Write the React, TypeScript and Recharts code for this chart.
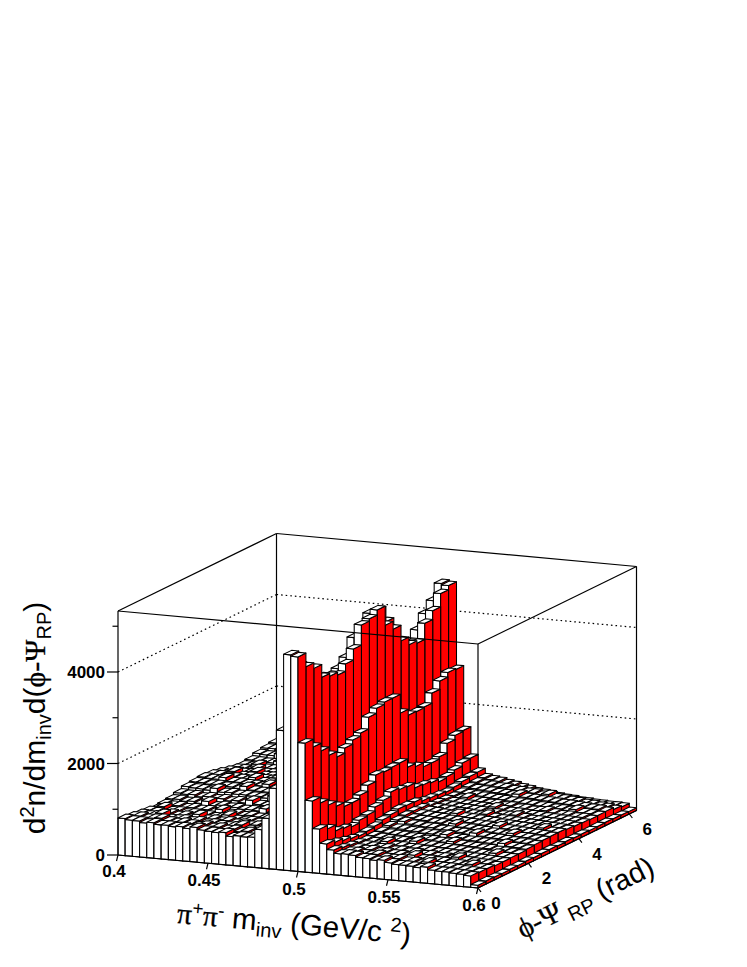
import React from "react";
import { ScatterChart, Scatter, XAxis, YAxis } from "recharts";

// Counts per (m_inv bin, phi bin): one array per phi bin, 50 mass bins each.
const phiBin00 = [810,790,785,755,775,745,750,730,745,720,760,715,700,690,705,630,660,650,660,840,1100,1770,3050,4720,4690,2820,1570,970,660,540,470,480,465,430,425,400,420,375,350,350,345,325,355,300,290,290,275,270,250,60];
const phiBin01 = [780,790,760,775,790,745,725,745,720,700,725,690,710,675,690,650,675,640,680,880,1150,1700,2850,4400,4390,2650,1440,890,610,500,445,450,415,405,430,380,370,380,340,350,320,365,300,295,295,275,265,255,240,70];
const phiBin02 = [750,735,745,795,700,700,715,690,705,670,685,665,650,665,700,620,615,640,650,820,1090,1640,2750,4250,4270,2480,1310,760,560,470,430,410,420,385,395,370,370,345,390,320,325,305,305,285,280,265,300,240,235,65];
const phiBin03 = [730,720,695,715,680,700,670,745,655,670,640,660,625,640,610,625,595,620,630,780,1030,1560,2600,3950,3990,2300,1200,730,520,440,410,400,380,390,355,365,340,345,315,325,295,305,280,330,265,255,245,240,215,60];
const phiBin04 = [690,745,670,680,650,665,640,650,625,640,690,610,590,610,585,590,570,585,610,760,1000,1520,2550,3900,3930,2180,1110,680,490,420,395,380,430,360,360,340,340,320,320,300,300,285,280,265,260,245,240,225,215,70];
const phiBin05 = [710,690,695,665,680,655,665,635,700,625,640,605,625,600,600,580,650,575,620,770,1010,1540,2520,3850,3870,2290,1110,740,510,430,405,390,375,375,350,395,330,335,315,310,295,290,275,270,255,250,290,230,220,65];
const phiBin06 = [730,735,705,720,690,750,665,690,665,670,645,650,640,700,620,600,620,590,640,790,1040,1590,2600,3910,4030,2380,1190,770,540,440,415,400,395,375,375,350,355,335,330,360,310,295,290,275,275,255,250,240,220,75];
const phiBin07 = [775,760,765,730,750,720,735,700,720,690,760,680,670,680,650,660,635,650,670,820,1090,1660,2700,4070,4270,2450,1320,860,590,480,440,430,410,410,385,385,365,400,345,340,320,320,305,300,285,320,265,255,240,70];
const phiBin08 = [830,815,810,795,850,775,785,760,765,750,750,735,790,715,720,695,700,680,700,880,1180,1810,3000,4420,4710,2710,1460,920,620,520,500,455,445,425,425,400,400,375,375,355,390,335,320,315,305,290,280,270,250,75];
const phiBin09 = [850,845,825,835,810,810,790,850,780,770,770,760,745,750,730,770,725,700,720,900,1220,1860,3080,4560,4760,2820,1440,1020,660,540,490,470,465,440,440,415,450,390,385,365,360,340,335,320,355,300,295,275,260,80];
const phiBin10 = [870,855,850,900,825,825,810,810,790,840,780,775,760,760,745,735,730,715,730,910,1250,1900,3150,4780,4870,2870,1460,980,650,545,495,480,465,455,435,425,410,405,385,380,360,395,340,330,320,305,300,285,265,70];
const phiBin11 = [850,850,825,830,810,805,860,785,785,765,775,750,800,740,735,715,720,705,720,900,1220,1850,3070,4760,4450,2870,1470,960,640,530,485,475,455,445,480,415,410,395,380,370,355,345,330,325,310,300,335,275,265,80];
const phiBin12 = [810,795,850,775,775,760,750,750,790,735,725,720,705,700,750,675,680,665,690,860,1140,1740,2900,4430,4280,2460,1290,850,580,490,460,445,435,420,410,395,385,420,365,345,340,325,315,305,295,285,275,265,245,70];
const phiBin13 = [765,760,745,745,790,720,720,705,700,695,695,740,675,665,655,650,690,635,660,810,1070,1640,2710,3900,3940,2330,1220,830,560,475,440,430,410,405,390,385,360,365,335,340,360,320,295,295,275,275,255,250,230,75];
const phiBin14 = [725,725,705,760,690,690,675,680,720,665,650,640,640,690,630,605,605,600,630,770,1020,1560,2580,3780,3770,2320,1130,790,540,460,425,410,400,385,380,365,395,350,325,325,310,300,290,280,270,260,250,240,220,65];
const phiBin15 = [710,700,750,680,680,665,670,710,655,640,640,620,625,610,660,595,595,585,610,760,1000,1520,2500,3700,3720,2340,1130,730,520,445,415,450,385,385,360,365,335,345,315,320,295,300,315,280,255,260,235,240,210,70];
const phiBin16 = [735,725,715,715,755,695,690,680,675,720,665,650,645,640,630,620,670,610,640,790,1040,1590,2600,3910,4070,2560,1180,760,545,450,430,415,405,390,380,370,355,345,335,325,305,305,285,285,265,300,245,235,215,75];
const phiBin17 = [790,775,775,820,760,740,745,725,730,710,770,695,700,680,685,660,670,650,680,850,1130,1720,2800,4180,4260,2740,1390,820,580,480,455,440,430,410,405,390,420,365,355,340,330,320,305,300,285,275,260,250,220,70];
const phiBin18 = [825,825,800,810,785,840,770,775,750,760,745,740,780,730,710,700,690,690,710,890,1180,1810,2950,4380,4550,2840,1480,890,610,500,470,460,435,435,405,400,380,375,345,375,315,305,285,275,250,240,220,205,175,65];
const phiBin19 = [855,840,835,820,815,800,800,780,785,760,770,745,750,730,730,710,715,695,730,910,1220,1860,3060,4670,4640,2820,1500,910,620,510,480,460,425,400,365,340,305,285,255,240,220,210,190,185,170,165,155,155,145,60];
const phiBins = [phiBin00,phiBin01,phiBin02,phiBin03,phiBin04,phiBin05,phiBin06,phiBin07,phiBin08,phiBin09,phiBin10,phiBin11,phiBin12,phiBin13,phiBin14,phiBin15,phiBin16,phiBin17,phiBin18,phiBin19];

const massMin = 0.4;
const massMax = 0.6;
const phiMax = 2 * Math.PI;
const zMax = 5333;
const massTicks = [0.4, 0.45, 0.5, 0.55, 0.6];
const massTickLabels = ["0.4", "0.45", "0.5", "0.55", "0.6"];
const phiTicks = [0, 2, 4, 6];
const zMajorTicks = [0, 2000, 4000];
const zMinorTicks = [1000, 3000, 5000];
const zGrid = [2000, 4000];

// Oblique projection of the lego's box on the page
const O = { x: 118, y: 855 };
const U = { x: 360, y: 33 };
const V = { x: 158.5, y: -77.5 };
const H = 244;
const project = (m: number, phi: number, z: number) => {
  const a = (m - massMin) / (massMax - massMin);
  const b = phi / phiMax;
  return { sx: O.x + a * U.x + b * V.x, sy: O.y + a * U.y + b * V.y - (z / zMax) * H };
};
const nMass = phiBin00.length;
const nPhi = phiBins.length;
const uStep = { x: U.x / nMass, y: U.y / nMass };
const vStep = { x: V.x / nPhi, y: V.y / nPhi };

const bars: any[] = [];
for (let j = nPhi - 1; j >= 0; j--) {
  for (let i = 0; i < nMass; i++) {
    const m = massMin + (i * (massMax - massMin)) / nMass;
    const phi = (j * phiMax) / nPhi;
    bars.push({ ...project(m, phi, 0), h: (phiBins[j][i] / zMax) * H });
  }
}

const seg = (a: any, b: any, extra: any = {}) => ({ ...a, dx: b.sx - a.sx, dy: b.sy - a.sy, ...extra });

const backSegs: any[] = [
  seg(project(massMin, phiMax, 0), project(massMin, phiMax, zMax)),
  seg(project(massMax, phiMax, 0), project(massMax, phiMax, zMax)),
  seg(project(massMin, phiMax, zMax), project(massMax, phiMax, zMax)),
  seg(project(massMin, 0, zMax), project(massMin, phiMax, zMax)),
  seg(project(massMin, 0, 0), project(massMin, phiMax, 0)),
  seg(project(massMin, phiMax, 0), project(massMax, phiMax, 0)),
  seg(project(massMax, 0, 0), project(massMax, 0, zMax)),
  ...zGrid.flatMap((z) => [
    seg(project(massMin, 0, z), project(massMin, phiMax, z), { dash: "1.6 3" }),
    seg(project(massMin, phiMax, z), project(massMax, phiMax, z), { dash: "1.6 3" }),
  ]),
];
const frontSegs: any[] = [
  seg(project(massMin, 0, zMax), project(massMax, 0, zMax)),
  seg(project(massMax, 0, zMax), project(massMax, phiMax, zMax)),
  seg(project(massMin, 0, 0), project(massMin, 0, zMax)),
  seg(project(massMin, 0, 0), project(massMax, 0, 0)),
  seg(project(massMax, 0, 0), project(massMax, phiMax, 0)),
  ...zMajorTicks.map((z) => {
    const a = project(massMin, 0, z);
    return seg(a, { sx: a.sx - 11, sy: a.sy });
  }),
  ...zMinorTicks.map((z) => {
    const a = project(massMin, 0, z);
    return seg(a, { sx: a.sx - 5.5, sy: a.sy });
  }),
  ...massTicks.map((m) => {
    const a = project(m, 0, 0);
    return seg(a, { sx: a.sx - 1.5, sy: a.sy + 6 });
  }),
  ...phiTicks.map((p) => {
    const a = project(massMax, p, 0);
    return seg(a, { sx: a.sx + 3, sy: a.sy + 4 });
  }),
];

const labelOffsets = [
  { x: -4, y: 16 }, { x: -4, y: 17 }, { x: -4, y: 17 }, { x: -4, y: 17 }, { x: -4, y: 17 },
];
const tickLabels: any[] = [
  ...massTicks.map((m, k) => {
    const a = project(m, 0, 0);
    return { sx: a.sx + labelOffsets[k].x, sy: a.sy + labelOffsets[k].y, text: massTickLabels[k], anchor: "middle" };
  }),
  ...phiTicks.map((p) => {
    const a = project(massMax, p, 0);
    return { sx: a.sx + 18, sy: a.sy + 15, text: String(p), anchor: "middle" };
  }),
  ...zMajorTicks.map((z) => {
    const a = project(massMin, 0, z);
    return { sx: a.sx - 13, sy: a.sy, text: String(z), anchor: "end" };
  }),
];

const titleAnchors = [
  { sx: 34, sy: 718, key: "z" },
  { sx: 294, sy: 923, key: "x" },
  { sx: 585, sy: 897, key: "phi" },
];

const SANS = "'Liberation Sans', Arial, sans-serif";
const SERIF = "'Liberation Serif', serif";

const Bar3D = (p: any) => {
  const { cx, cy, payload } = p;
  const h = payload.h;
  const P = (a: number, b: number, c: number) =>
    `${(cx + a * uStep.x + b * vStep.x).toFixed(2)},${(cy + a * uStep.y + b * vStep.y - c * h).toFixed(2)}`;
  return (
    <g stroke="#000" strokeWidth={1.05} strokeLinejoin="round">
      <polygon points={`${P(0, 0, 0)} ${P(1, 0, 0)} ${P(1, 0, 1)} ${P(0, 0, 1)}`} fill="#fff" />
      <polygon points={`${P(1, 0, 0)} ${P(1, 1, 0)} ${P(1, 1, 1)} ${P(1, 0, 1)}`} fill="#ff0000" />
      <polygon points={`${P(0, 0, 1)} ${P(1, 0, 1)} ${P(1, 1, 1)} ${P(0, 1, 1)}`} fill="#fff" />
    </g>
  );
};

const Seg = (p: any) => {
  const { cx, cy, payload } = p;
  return (
    <line
      x1={cx}
      y1={cy}
      x2={cx + payload.dx}
      y2={cy + payload.dy}
      stroke={payload.stroke || "#000"}
      strokeWidth={1.2}
      strokeDasharray={payload.dash}
    />
  );
};

const TickText = (p: any) => {
  const { cx, cy, payload } = p;
  return (
    <text x={cx} y={cy} dy="0.36em" textAnchor={payload.anchor} fontFamily={SANS} fontWeight="bold" fontSize={17} fill="#000">
      {payload.text}
    </text>
  );
};

const Title = (p: any) => {
  const { cx, cy, payload } = p;
  const sub = { fontSize: 20 };
  const sym = { fontFamily: SERIF, stroke: "#000", strokeWidth: 0.25 };
  if (payload.key === "z") {
    return (
      <text transform={`translate(${cx},${cy}) rotate(-90)`} x={0} y={0} dy="0.36em" textAnchor="middle" fontFamily={SANS} fontSize={30} fill="#000">
        d<tspan fontSize={20} dy={-11}>2</tspan>
        <tspan dy={11}>n/dm</tspan>
        <tspan {...sub} dy={6}>inv</tspan>
        <tspan dy={-6}>d(</tspan>
        <tspan {...sym}>ϕ-Ψ</tspan>
        <tspan {...sub} dy={6}>RP</tspan>
        <tspan dy={-6}>)</tspan>
      </text>
    );
  }
  if (payload.key === "x") {
    return (
      <text transform={`translate(${cx},${cy}) rotate(5.2)`} x={0} y={0} dy="0.36em" textAnchor="middle" fontFamily={SANS} fontSize={29.5} fill="#000">
        <tspan {...sym}>π</tspan>
        <tspan fontSize={19} dy={-10}>+</tspan>
        <tspan {...sym} dy={10}>π</tspan>
        <tspan fontSize={19} dy={-10}>-</tspan>
        <tspan dy={10}> m</tspan>
        <tspan fontSize={20} dy={6}>inv</tspan>
        <tspan dy={-6}> (GeV/c </tspan>
        <tspan fontSize={20} dy={-11}>2</tspan>
        <tspan dy={11}>)</tspan>
      </text>
    );
  }
  return (
    <text transform={`translate(${cx},${cy}) rotate(-26)`} x={0} y={0} dy="0.36em" textAnchor="middle" fontFamily={SANS} fontSize={29} fill="#000">
      <tspan {...sym}>ϕ-Ψ</tspan>
      <tspan fontSize={20} dy={6}> RP</tspan>
      <tspan dy={-6}> (rad)</tspan>
    </text>
  );
};

export default function App() {
  return (
    <div style={{ position: "absolute", left: 0, top: 0, width: 747, height: 967, background: "#fff" }}>
      <ScatterChart width={747} height={967} margin={{ top: 0, right: 0, bottom: 0, left: 0 }}>
        <XAxis type="number" dataKey="sx" domain={[0, 747]} hide allowDataOverflow />
        <YAxis type="number" dataKey="sy" domain={[0, 967]} reversed hide allowDataOverflow />
        <Scatter data={backSegs} shape={Seg} isAnimationActive={false} />
        <Scatter data={bars} shape={Bar3D} isAnimationActive={false} />
        <Scatter data={frontSegs} shape={Seg} isAnimationActive={false} />
        <Scatter data={tickLabels} shape={TickText} isAnimationActive={false} />
        <Scatter data={titleAnchors} shape={Title} isAnimationActive={false} />
      </ScatterChart>
    </div>
  );
}
